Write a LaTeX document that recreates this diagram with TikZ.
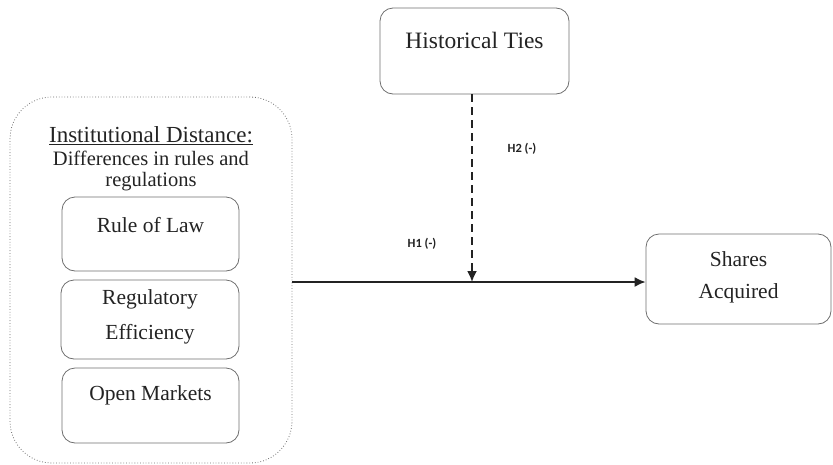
\documentclass[tikz,border=0pt]{standalone}
\usepackage{fontspec}
\setmainfont{Liberation Serif}
\newfontfamily\lblfont{Carlito}
\usetikzlibrary{arrows.meta}
\definecolor{boxgray}{RGB}{110,110,110}
\definecolor{txt}{RGB}{35,35,35}
\tikzset{
  rbox/.style={draw=boxgray, line width=0.8pt, rounded corners=13pt, inner sep=0pt},
  outerbox/.style={draw=boxgray, dotted, line width=0.8pt, rounded corners=42pt, inner sep=0pt},
  btext/.style={text=txt, font=\fontsize{21.5}{33}\selectfont, align=center, inner sep=0pt},
  hlabel/.style={text=txt, font=\lblfont\bfseries\fontsize{12.5}{14}\selectfont, inner sep=0pt},
  conn/.style={line width=1.8pt, draw=txt, -{Latex[length=11pt,width=10pt]}},
}
\begin{document}
\begin{tikzpicture}[x=1pt,y=-1pt]
\useasboundingbox (0,0) rectangle (833,464);
% outer group
\node[outerbox, minimum width=282pt, minimum height=366pt] (inst) at (151,280) {};
\node[btext, font=\fontsize{23}{27}\selectfont] (title) at (151,136) {\underline{Institutional Distance:}};
\node[btext, font=\fontsize{20.5}{20.5}\selectfont] (diff) at (151,171) {Differences in rules and\\regulations};
% inner boxes
\node[rbox, minimum width=177pt, minimum height=74pt] (rol) at (150.5,234) {};
\node[btext] (roltxt) at (150.5,225) {Rule of Law};
\node[rbox, minimum width=178pt, minimum height=79pt] (reg) at (150,319.5) {};
\node[btext, font=\fontsize{21.5}{35}\selectfont] (regtxt) at (150,317) {Regulatory\\Efficiency};
\node[rbox, minimum width=177pt, minimum height=75pt] (om) at (150.5,405.5) {};
\node[btext] (omtxt) at (150.5,395) {Open Markets};
% historical ties
\node[rbox, minimum width=189pt, minimum height=86pt] (ht) at (474.5,51) {};
\node[btext, font=\fontsize{23.5}{27}\selectfont] (httxt) at (474.5,40) {Historical Ties};
% shares acquired
\node[rbox, minimum width=185pt, minimum height=90pt] (sa) at (738.5,279) {};
\node[btext, font=\fontsize{21.5}{32}\selectfont] (satxt) at (738.5,277.5) {Shares\\Acquired};
% connectors
\coordinate (mid) at (472,282);
\draw[conn] (inst.east |- mid) -- (sa.west |- mid);
\draw[conn, dashed, dash pattern=on 8pt off 5pt] (ht.south -| mid) -- (mid);
% labels
\node[hlabel] (h2) at (522,149) {H2 (-)};
\node[hlabel] (h1) at (422,244) {H1 (-)};
\end{tikzpicture}
\end{document}
